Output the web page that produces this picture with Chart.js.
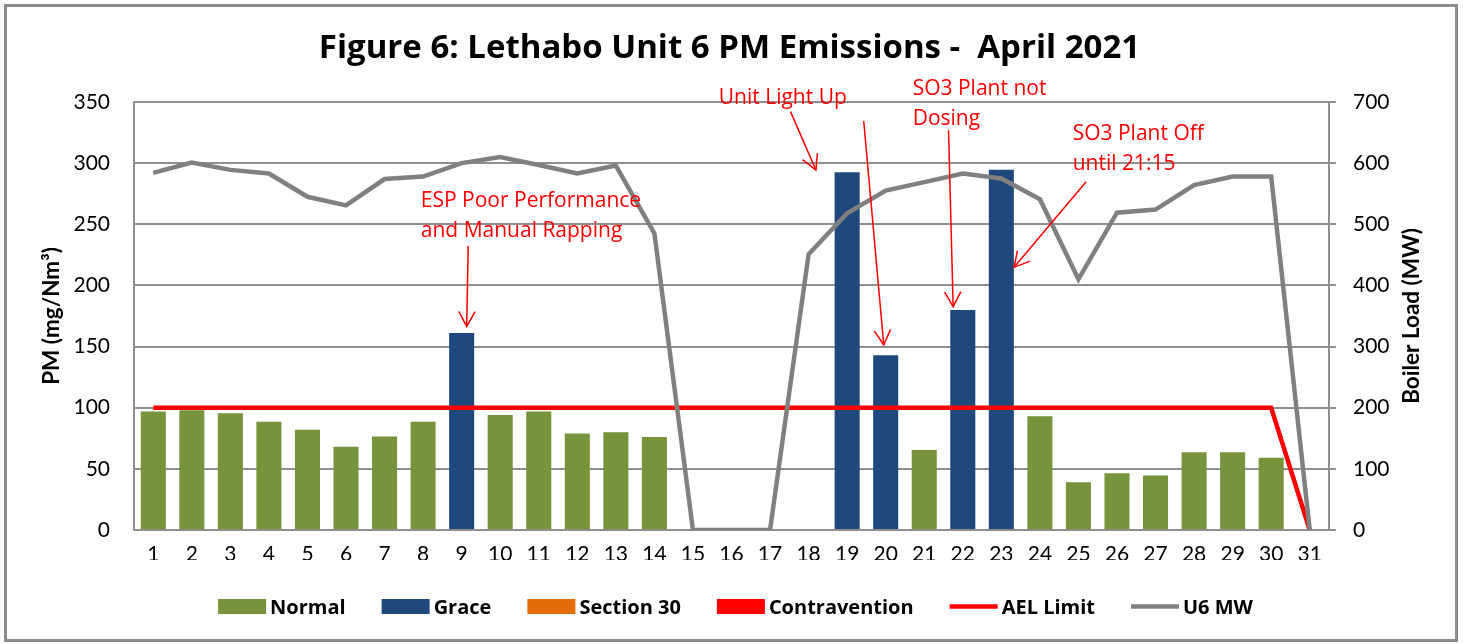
<!DOCTYPE html>
<html><head><meta charset="utf-8">
<script src="https://cdn.jsdelivr.net/npm/chart.js@4.4.0/dist/chart.umd.min.js"></script>
<style>html,body{margin:0;padding:0;background:#fff;overflow:hidden}#wrap{width:1463px;height:644px;position:relative}canvas{display:block}</style>
</head><body><div id="wrap"><canvas id="c" width="1463" height="644"></canvas></div>
<script>
// ---- data ----
const days = ['1','2','3','4','5','6','7','8','9','10','11','12','13','14','15','16','17','18','19','20','21','22','23','24','25','26','27','28','29','30','31'];
const normalPM = [97,98,95.5,88.5,82,68,76.5,88.5,null,94,97,79,80,76,null,null,null,null,null,null,65.5,null,null,93,39,46.5,44.5,63.5,63.5,59,null];
const gracePM  = [null,null,null,null,null,null,null,null,161,null,null,null,null,null,null,null,null,null,292.5,143,null,180,294.5,null,null,null,null,null,null,null,null];
const section30PM = [];
const contraventionPM = [];
const aelLimit = [100,100,100,100,100,100,100,100,100,100,100,100,100,100,100,100,100,100,100,100,100,100,100,100,100,100,100,100,100,100,0];
const u6MW = [584,601,589,583,545,531,574,578,600,610,597,583,596,485,0,0,0,451,518,555,569,583,575,541,410,519,524,564,578,578,0];
const pmTicks = [0,50,100,150,200,250,300,350];
const mwTicks = [0,100,200,300,400,500,600,700];
const titleText = 'Figure 6: Lethabo Unit 6 PM Emissions -  April 2021';
const leftTitle = 'PM (mg/Nm\u00B3)';
const rightTitle = 'Boiler Load (MW)';
// annotations: text lines with (day, PM value) anchors, arrows from/to (day, PM value)
const notes = [
  {lines:['ESP Poor Performance','and Manual Rapping'], day:7.94, pm:[264.4,240.0], arrows:[[9.17,232.2,9.13,166.5]]},
  {lines:['Unit Light Up'], day:15.67, pm:[348.4], arrows:[[17.53,342.1,18.19,294.4],[19.43,334.5,19.95,151.3]]},
  {lines:['SO3 Plant not','Dosing'], day:20.70, pm:[355.7,331.2], arrows:[[21.63,327.1,21.75,182.6]]},
  {lines:['SO3 Plant Off','until 21:15'], day:24.85, pm:[318.9,294.8], arrows:[[25.2,284.8,23.33,214.8]]}
];

const GRID = '#8f8f8f';
const FONT = 'Lato, "Open Sans", sans-serif';
const FONT2 = '"Open Sans", Lato, sans-serif';

const decor = {
  id:'decor',
  beforeDraw(chart){
    const c = chart.ctx;
    c.save(); c.fillStyle='#fff'; c.fillRect(0,0,chart.width,chart.height); c.restore();
  },
  afterDraw(chart){
    const c = chart.ctx, x = chart.scales.x, y = chart.scales.y;
    const ca = chart.chartArea;
    c.save();
    // outer border
    c.strokeStyle = '#8c8c8c'; c.lineWidth = 3;
    c.strokeRect(5.5, 5.5, 1451, 635);
    // title
    c.fillStyle = '#000'; c.font = 'bold 33px ' + FONT2; c.textAlign = 'center'; c.textBaseline = 'alphabetic';
    c.fillText(titleText, 729.5, 58);
    // axis titles (both read bottom to top)
    c.font = 'bold 22.5px ' + FONT; c.textBaseline = 'middle';
    c.save(); c.translate(51.5, (ca.top+ca.bottom)/2); c.rotate(-Math.PI/2); c.fillText(leftTitle, 0, 0); c.restore();
    c.save(); c.translate(1411.5, (ca.top+ca.bottom)/2); c.rotate(-Math.PI/2); c.fillText(rightTitle, 0, 0); c.restore();
    // annotations
    const px = d => x.getPixelForValue(d-1);
    const py = v => y.getPixelForValue(v);
    c.fillStyle = '#ff0000'; c.strokeStyle = '#ff0000'; c.font = '21px ' + FONT2;
    c.textAlign = 'left'; c.textBaseline = 'alphabetic'; c.lineWidth = 1.5;
    notes.forEach(n => {
      n.lines.forEach((t,i) => c.fillText(t, px(n.day), py(n.pm[i])));
      n.arrows.forEach(a => {
        const x1 = px(a[0]), y1 = py(a[1]), x2 = px(a[2]), y2 = py(a[3]);
        const ang = Math.atan2(y2-y1, x2-x1), L = 17, sp = 0.5;
        c.beginPath(); c.moveTo(x1,y1); c.lineTo(x2,y2); c.stroke();
        c.beginPath();
        c.moveTo(x2 - L*Math.cos(ang-sp), y2 - L*Math.sin(ang-sp));
        c.lineTo(x2, y2);
        c.lineTo(x2 - L*Math.cos(ang+sp), y2 - L*Math.sin(ang+sp));
        c.stroke();
      });
    });
    // legend
    c.font = 'bold 20px ' + FONT2; c.textBaseline = 'alphabetic'; c.textAlign = 'left';
    const items = chart.data.datasets.map(ds => ({label: ds.label, line: ds.type === 'line', color: ds.type === 'line' ? ds.borderColor : ds.backgroundColor}));
    const BW = 48, GAP = 4, IG = 36;
    let total = 0;
    items.forEach((it,i) => { it.w = BW + GAP + c.measureText(it.label).width; total += it.w + (i ? IG : 0); });
    let cx = 735.5 - total/2;
    const ly = 606.5;
    items.forEach(it => {
      if (it.line) {
        c.strokeStyle = it.color; c.lineWidth = 4.5; c.lineCap = 'butt';
        c.beginPath(); c.moveTo(cx, ly); c.lineTo(cx+BW, ly); c.stroke();
      } else {
        c.fillStyle = it.color; c.fillRect(cx, ly-7.5, BW, 15);
      }
      c.fillStyle = '#000';
      c.fillText(it.label, cx + BW + GAP, 613.5);
      cx += it.w + IG;
    });
    c.restore();
  }
};

const tickFont = {family: FONT, size: 21};
new Chart(document.getElementById('c'), {
  type: 'bar',
  data: {
    labels: days,
    datasets: [
      {type:'bar', label:'Normal', data: normalPM, backgroundColor:'#77933C', yAxisID:'y', grouped:false, barPercentage:0.65, categoryPercentage:1, order:3},
      {type:'bar', label:'Grace', data: gracePM, backgroundColor:'#1F497D', yAxisID:'y', grouped:false, barPercentage:0.65, categoryPercentage:1, order:3},
      {type:'bar', label:'Section 30', data: section30PM, backgroundColor:'#E46C0A', yAxisID:'y', grouped:false, barPercentage:0.65, categoryPercentage:1, order:3},
      {type:'bar', label:'Contravention', data: contraventionPM, backgroundColor:'#FF0000', yAxisID:'y', grouped:false, barPercentage:0.65, categoryPercentage:1, order:3},
      {type:'line', label:'AEL Limit', data: aelLimit, borderColor:'#FF0000', backgroundColor:'#FF0000', borderWidth:4.5, pointRadius:0, tension:0, yAxisID:'y', order:1},
      {type:'line', label:'U6 MW', data: u6MW, borderColor:'#808080', backgroundColor:'#808080', borderWidth:4.5, pointRadius:0, tension:0, yAxisID:'y1', order:0}
    ]
  },
  options: {
    responsive:false, animation:false, devicePixelRatio:1,
    layout:{padding:{left:0, right:0, top:102, bottom:84}},
    plugins:{legend:{display:false}, title:{display:false}, tooltip:{enabled:false}},
    scales:{
      x:{
        offset:true,
        grid:{display:false, drawTicks:false},
        border:{display:true, color:GRID, width:2},
        ticks:{font:tickFont, color:'#000', padding:12, maxRotation:0, autoSkip:false},
        afterFit(s){ s.height = 30; }
      },
      y:{
        position:'left', min:0, max:350,
        afterBuildTicks(s){ s.ticks = pmTicks.map(v => ({value:v})); },
        ticks:{font:tickFont, color:'#000', padding:24},
        grid:{color:GRID, lineWidth:2, drawTicks:false},
        border:{display:true, color:GRID, width:2},
        afterFit(s){ s.width = 134; }
      },
      y1:{
        position:'right', min:0, max:700,
        afterBuildTicks(s){ s.ticks = mwTicks.map(v => ({value:v})); },
        ticks:{font:tickFont, color:'#000', padding:17},
        grid:{drawOnChartArea:false, drawTicks:true, tickLength:7, color:GRID, lineWidth:2},
        border:{display:true, color:GRID, width:2},
        afterFit(s){ s.width = 134; }
      }
    }
  },
  plugins:[decor]
});
</script>
</body></html>
